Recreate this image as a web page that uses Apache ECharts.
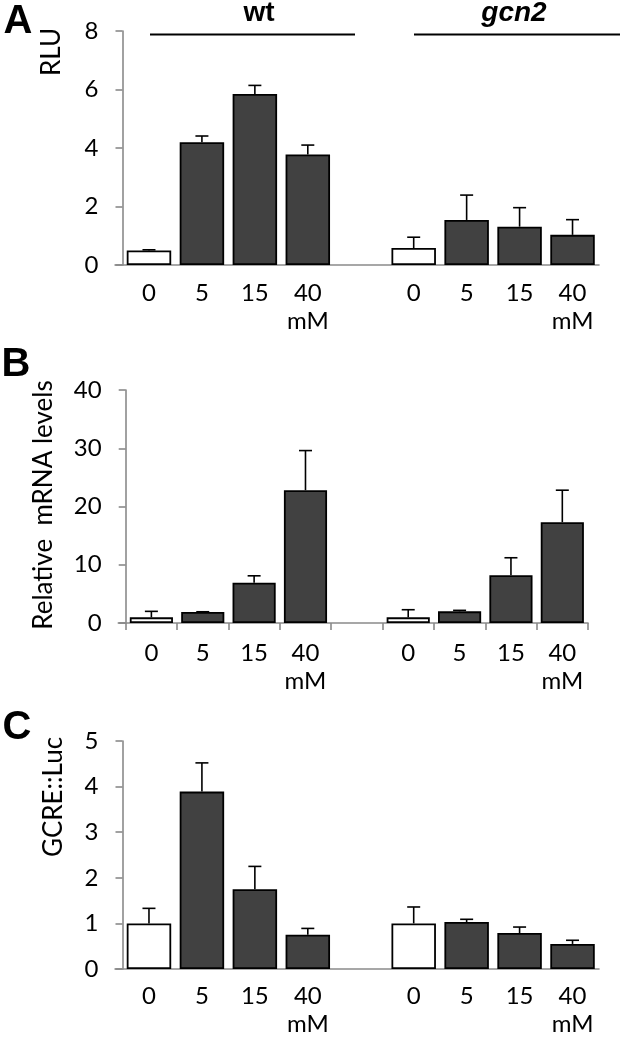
<!DOCTYPE html>
<html>
<head>
<meta charset="utf-8">
<script src="https://cdn.jsdelivr.net/npm/echarts@6/dist/echarts.min.js"></script>
<style>html,body{margin:0;padding:0;background:#fff}#c{width:620px;height:1038px}</style>
</head>
<body>
<div id="c"></div>
<script>
// ---- data ----
var categories = ['0', '5', '15', '40', '', '0', '5', '15', '40'];
var unitIndex = [3, 8]; // categories that carry the "mM" unit below
var groupLabels = ['wt', 'gcn2'];

var rluValues = [0.50, 4.20, 5.85, 3.78, null, 0.58, 1.54, 1.31, 1.03];
var rluErrors = [0.02, 0.21, 0.29, 0.32, null, 0.37, 0.85, 0.65, 0.52];

var mrnaValues = [0.97, 1.88, 6.9, 22.8, null, 0.97, 2.0, 8.2, 17.3];
var mrnaErrors = [1.03, 0.05, 1.2, 6.8, null, 1.31, 0.17, 3.0, 5.5];

var lucValues = [1.0, 3.89, 1.75, 0.75, null, 1.0, 1.03, 0.79, 0.55];
var lucErrors = [0.33, 0.63, 0.50, 0.14, null, 0.36, 0.06, 0.13, 0.08];

var controlIndex = [0, 5]; // untreated (0 mM) bars drawn white

var yTicksA = [0, 8, 2];
var yTicksB = [0, 40, 10];
var yTicksC = [0, 5, 1];

// ---- chart ----
var chart = echarts.init(document.getElementById('c'), null, {renderer: 'canvas'});
var FONT = 'Lato';
var AXIS = '#8a8a8a';

var grids = [
  {left: 122.5, right: 21, top: 31, height: 234},
  {left: 125.7, right: 32, top: 390, height: 233},
  {left: 122.5, right: 21, top: 741, height: 235}
];
var labelMargins = [14, 16, 13];

function xAxisFor(i, ticks) {
  return {
    type: 'category', gridIndex: i, data: categories,
    boundaryGap: true,
    axisLine: {lineStyle: {color: AXIS, width: 1.6}},
    axisTick: {show: ticks, length: 7, interval: 0, lineStyle: {color: AXIS, width: 1.6}},
    axisLabel: {
      interval: 0, color: '#000', fontFamily: FONT, fontSize: 24, lineHeight: 28,
      margin: labelMargins[i],
      formatter: function (v, idx) { return unitIndex.indexOf(idx) >= 0 ? v + '\nmM' : v; }
    }
  };
}
function yAxisFor(i, t) {
  return {
    type: 'value', gridIndex: i, min: t[0], max: t[1], interval: t[2],
    splitLine: {show: false},
    axisLine: {show: true, lineStyle: {color: AXIS, width: 1.6}},
    axisTick: {show: true, length: 7, lineStyle: {color: AXIS, width: 1.6}},
    axisLabel: {color: '#000', fontFamily: FONT, fontSize: 24, margin: 24}
  };
}
function barData(vals) {
  return vals.map(function (v, i) {
    if (v === null) return null;
    var white = controlIndex.indexOf(i) >= 0;
    return {value: v, itemStyle: {color: white ? '#ffffff' : '#414141'}};
  });
}
function barSeries(i, vals) {
  return {
    type: 'bar', xAxisIndex: i, yAxisIndex: i, data: barData(vals),
    barCategoryGap: '16%',
    itemStyle: {borderColor: '#000', borderWidth: 1.8},
    silent: true, animation: false
  };
}
function errSeries(i, vals, errs) {
  var d = [];
  vals.forEach(function (v, k) { if (v !== null) d.push([k, v, v + errs[k]]); });
  return {
    type: 'custom', xAxisIndex: i, yAxisIndex: i, data: d, z: 1, silent: true, animation: false,
    renderItem: function (params, api) {
      var p0 = api.coord([api.value(0), api.value(1)]);
      var p1 = api.coord([api.value(0), api.value(2)]);
      var hw = 6.5;
      var st = {stroke: '#000', lineWidth: 1.6};
      return {type: 'group', children: [
        {type: 'line', shape: {x1: p0[0], y1: p0[1], x2: p1[0], y2: p1[1]}, style: st},
        {type: 'line', shape: {x1: p1[0] - hw, y1: p1[1], x2: p1[0] + hw, y2: p1[1]}, style: st}
      ]};
    }
  };
}

var g = [];
function txt(x, y, s, font, rot) {
  g.push({type: 'text', x: x, y: y, rotation: rot || 0,
    style: {text: s, font: font, fill: '#000', align: 'center', verticalAlign: 'middle'}});
}
txt(18, 22, 'A', 'bold 40px "Liberation Sans"');
txt(16, 365, 'B', 'bold 40px "Liberation Sans"');
txt(17, 728, 'C', 'bold 40px "Liberation Sans"');
txt(259, 13, groupLabels[0], 'bold 28px "Liberation Sans"');
txt(514, 13, groupLabels[1], 'italic bold 28px "Liberation Sans"');
txt(52, 52, 'RLU', '26px Lato', Math.PI / 2);
txt(44, 505, 'Relative  mRNA levels', '26px Lato', Math.PI / 2);
txt(54, 797, 'GCRE::Luc', '26px Lato', Math.PI / 2);
g.push({type: 'line', shape: {x1: 150, y1: 34.5, x2: 355, y2: 34.5}, style: {stroke: '#000', lineWidth: 1.8}});
g.push({type: 'line', shape: {x1: 414, y1: 34.5, x2: 620, y2: 34.5}, style: {stroke: '#000', lineWidth: 1.8}});

chart.setOption({
  animation: false,
  grid: grids,
  xAxis: [xAxisFor(0, false), xAxisFor(1, true), xAxisFor(2, false)],
  yAxis: [yAxisFor(0, yTicksA), yAxisFor(1, yTicksB), yAxisFor(2, yTicksC)],
  series: [
    barSeries(0, rluValues), errSeries(0, rluValues, rluErrors),
    barSeries(1, mrnaValues), errSeries(1, mrnaValues, mrnaErrors),
    barSeries(2, lucValues), errSeries(2, lucValues, lucErrors)
  ],
  graphic: g
});

// short extension of each baseline to the left of the value axis
var ext = [];
[0, 1, 2].forEach(function (i) {
  var p = chart.convertToPixel({gridIndex: i}, [0, 0]);
  var left = grids[i].left;
  ext.push({type: 'line', shape: {x1: left - 8, y1: p[1], x2: left, y2: p[1]},
    style: {stroke: AXIS, lineWidth: 1.6}});
});
chart.setOption({graphic: g.concat(ext)});
</script>
</body>
</html>
